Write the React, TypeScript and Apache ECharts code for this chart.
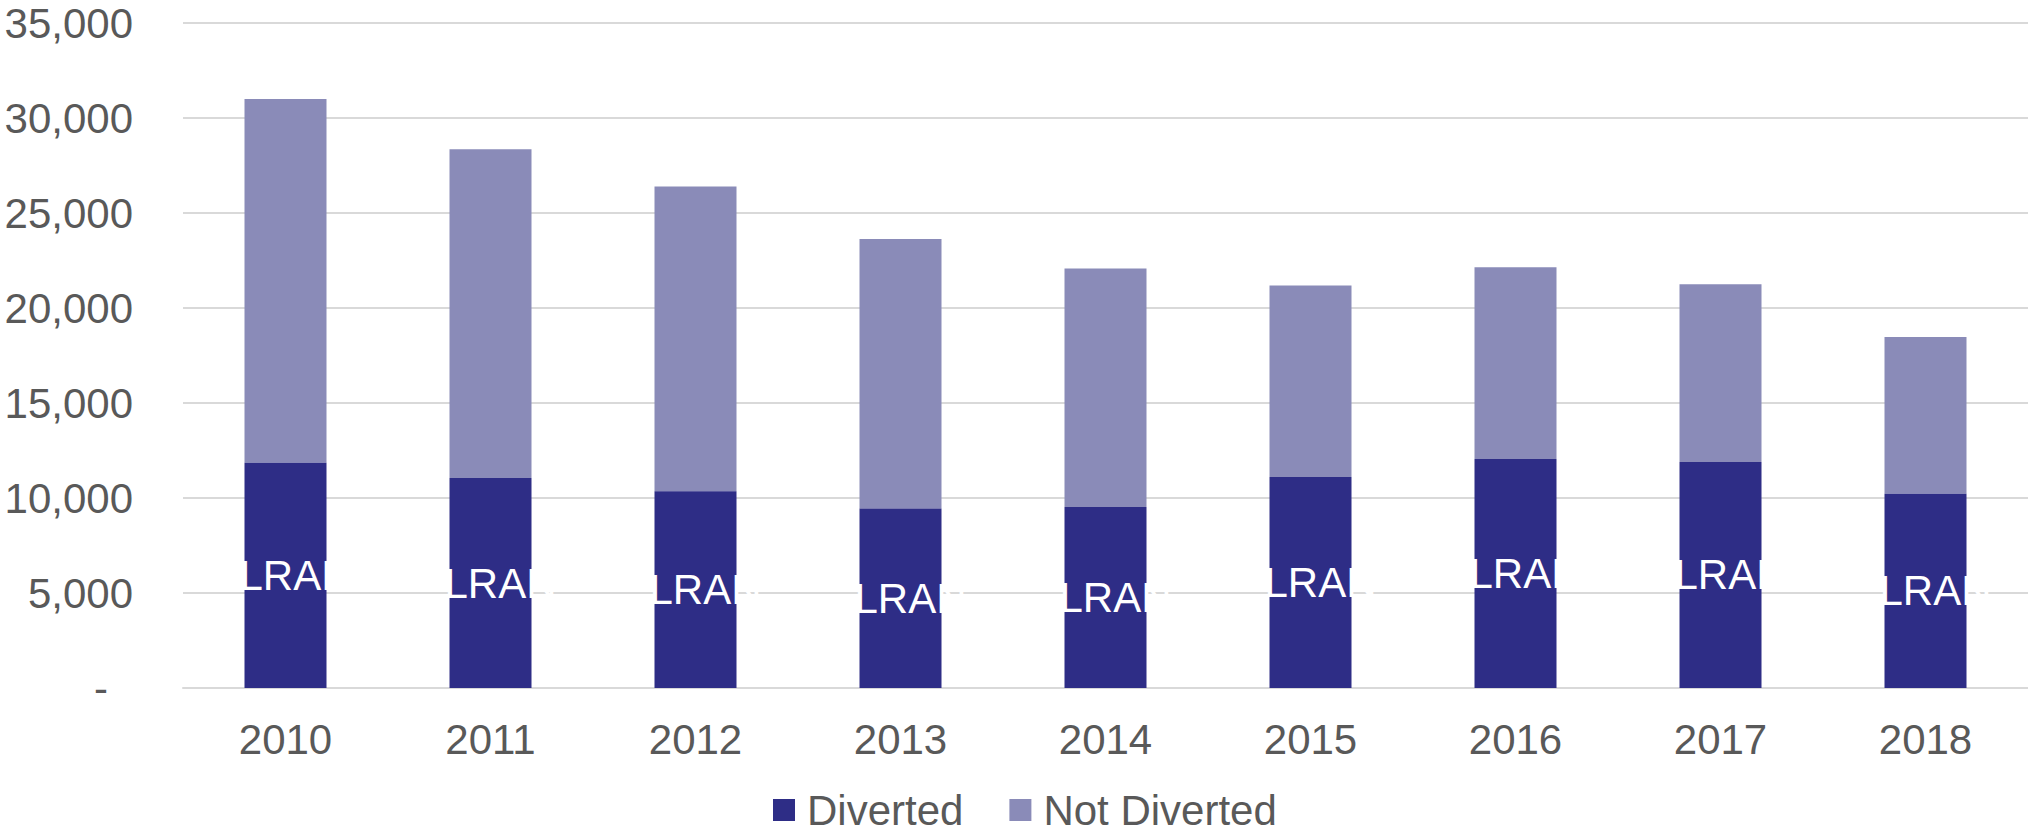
import React, { useEffect, useRef } from "react";
import * as echarts from "echarts";

const years = ["2010", "2011", "2012", "2013", "2014", "2015", "2016", "2017", "2018"];
const diverted = [11850, 11050, 10350, 9450, 9520, 11100, 12050, 11900, 10220];
const notDiverted = [19150, 17300, 16050, 14180, 12560, 10080, 10100, 9350, 8250];
const yTicks = [0, 5000, 10000, 15000, 20000, 25000, 30000, 35000];
const innerLabel = "LRAN";

const FONT = "Liberation Sans, Arial, sans-serif";
const GREY = "#595959";

export default function App() {
  const ref = useRef<HTMLDivElement>(null);
  useEffect(() => {
    document.body.style.margin = "0";
    if (!ref.current) return;
    const chart = echarts.init(ref.current, undefined, { renderer: "svg" });
    chart.setOption({
      animation: false,
      textStyle: { fontFamily: FONT },
      grid: { left: 183, right: 0, top: 23, bottom: 144, containLabel: false },
      legend: {
        data: ["Diverted", "Not Diverted"],
        left: 773,
        top: 789,
        padding: 0,
        icon: "rect",
        itemWidth: 22,
        itemHeight: 22,
        itemGap: 46,
        textStyle: {
          fontSize: 42,
          lineHeight: 42,
          color: GREY,
          fontFamily: FONT,
          padding: [0, 0, 0, 7],
        },
      },
      xAxis: {
        type: "category",
        data: years,
        axisLine: { show: true, lineStyle: { color: "#d9d9d9", width: 2 } },
        axisTick: { show: false },
        axisLabel: { fontSize: 42, color: GREY, margin: 30, fontFamily: FONT },
      },
      yAxis: {
        type: "value",
        min: yTicks[0],
        max: yTicks[yTicks.length - 1],
        interval: 5000,
        splitLine: { lineStyle: { color: "#d9d9d9", width: 2 } },
        axisLine: { show: false },
        axisTick: { show: false },
        axisLabel: {
          fontSize: 42,
          color: GREY,
          margin: 50,
          fontFamily: FONT,
          formatter: (v: number) => (v === 0 ? "{z|-}" : v.toLocaleString("en-US")),
          rich: { z: { fontSize: 42, color: GREY, fontFamily: FONT, padding: [0, 25, 0, 0] } },
        },
      },
      series: [
        {
          name: "Diverted",
          type: "bar",
          stack: "total",
          data: diverted,
          barWidth: "40%",
          itemStyle: { color: "#2e2d86" },
          label: {
            show: true,
            position: "insideLeft",
            offset: [-10, 0],
            formatter: () => innerLabel,
            color: "#ffffff",
            fontSize: 42,
            fontFamily: FONT,
          },
          z: 3,
        },
        {
          name: "Not Diverted",
          type: "bar",
          stack: "total",
          data: notDiverted,
          barWidth: "40%",
          itemStyle: { color: "#8a8bb8" },
        },
      ],
    });
    return () => chart.dispose();
  }, []);
  return <div ref={ref} style={{ width: 2028, height: 832 }} />;
}
